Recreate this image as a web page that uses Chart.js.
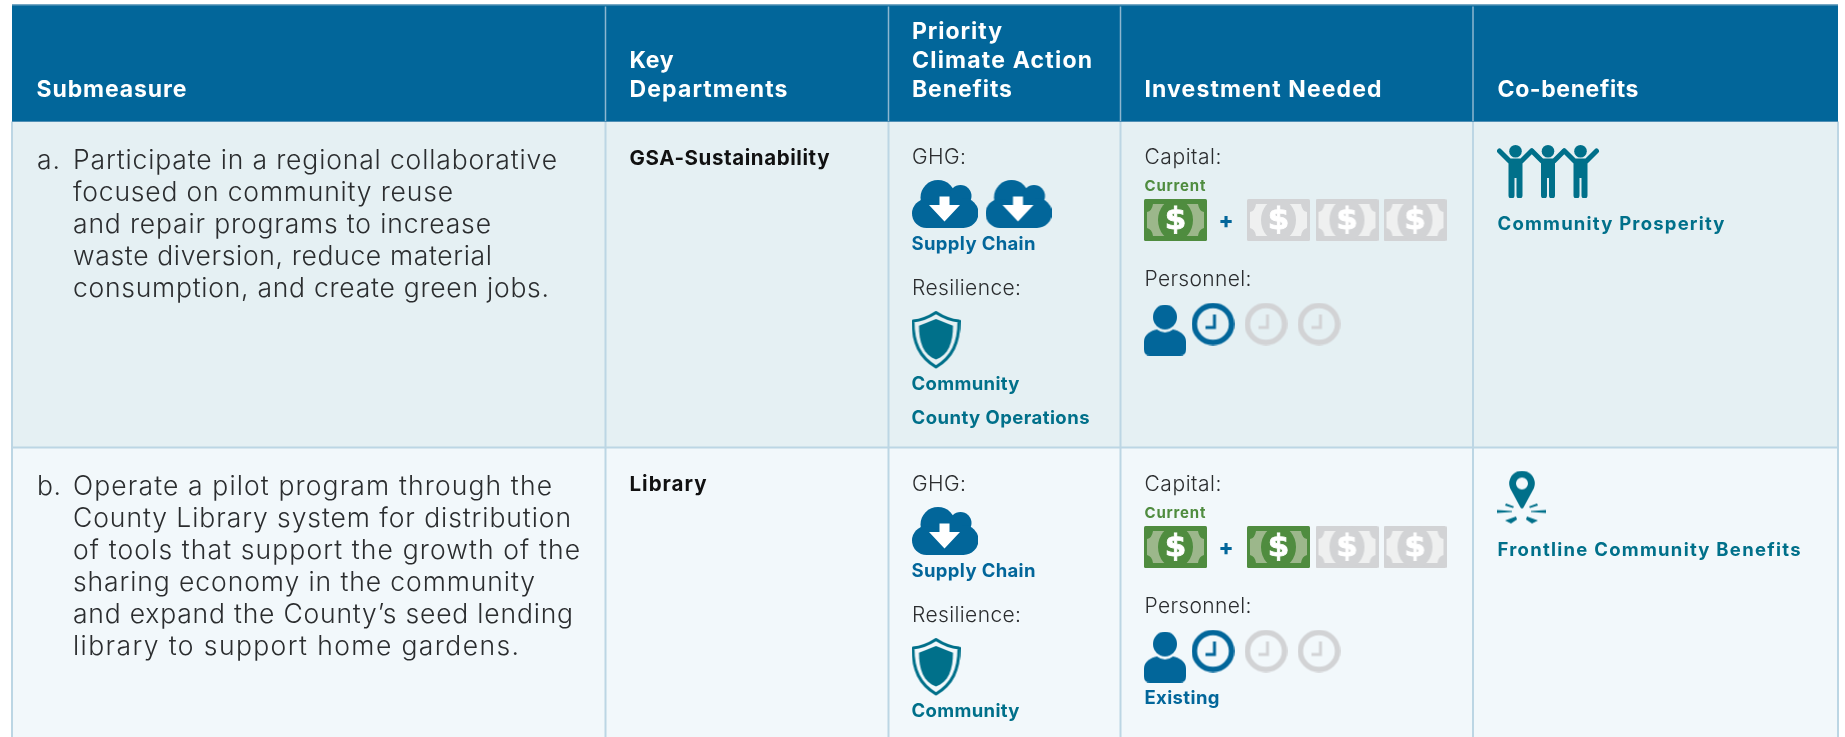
<!DOCTYPE html>
<html><head><meta charset="utf-8">
<style>html,body{margin:0;padding:0;background:#fff}canvas{display:block}</style>
<script src="https://cdn.jsdelivr.net/npm/chart.js@4"></script>
</head><body><canvas id="c" width="1845" height="737"></canvas>
<script>
// ---------- table content ----------
const columnHeaders = [['Submeasure'],['Key','Departments'],['Priority','Climate Action','Benefits'],['Investment Needed'],['Co-benefits']];
const rowMarkers = ['a.','b.'];
const submeasureA = ['Participate in a regional collaborative','focused on community reuse','and repair programs to increase','waste diversion, reduce material','consumption, and create green jobs.'];
const submeasureB = ['Operate a pilot program through the','County Library system for distribution','of tools that support the growth of the','sharing economy in the community','and expand the County\u2019s seed lending','library to support home gardens.'];
const departments = ['GSA-Sustainability','Library'];
const ghgLevel = [2,1];
const ghgLabels = ['Supply Chain','Supply Chain'];
const resilienceLevel = [1,1];
const resilienceLabels = [['Community','County Operations'],['Community']];
const capitalCurrent = [1,1];
const capitalAdded = [0,1];
const capitalSlots = 3;
const personnelLevel = [1,1];
const personnelSlots = 3;
const personnelNotes = ['','Existing'];
const coBenefits = ['Community Prosperity','Frontline Community Benefits'];
const coBenefitIcons = ['people','pin'];

// ---------- layout & style ----------
const BLUE='#02669a',TEAL='#00708a',GREEN='#4f8c3f',GRAY='#d2d3d5',INK='#2b2d2f';
const colEdges=[12,605.5,888.5,1120.5,1473,1838];
const rowEdges=[4.5,121.5,447.5,737];
const rowBg=['#e5f0f3','#f2f8fb'];
const rowShift=[0,327];
const W=1845,H=737;
const LIGHT='300 26.5px Inter';
const targetW={'Submeasure':150,'Key':44,'Departments':158,'Priority':90,'Climate Action':180,'Benefits':100,'Investment Needed':237,'Co-benefits':141,
'Participate in a regional collaborative':484,'focused on community reuse':380,'and repair programs to increase':418,'waste diversion, reduce material':419,'consumption, and create green jobs.':476,
'Operate a pilot program through the':479,'County Library system for distribution':498,'of tools that support the growth of the':507,'sharing economy in the community':462,'and expand the County\u2019s seed lending':500,'library to support home gardens.':446,
'GSA-Sustainability':200,'Library':77,'GHG:':54,'Resilience:':109,'Capital:':77,'Personnel:':107,'Current':61,'Supply Chain':124,'Community':108,'County Operations':178,'Existing':75,'Community Prosperity':227,'Frontline Community Benefits':303,'a.':23,'b.':24};

function mk(w,h,f){const c=document.createElement('canvas');c.width=w;c.height=h;const g=c.getContext('2d');f(g,w,h);return c;}
function cloud(g){
  g.fillStyle=BLUE;
  const blob=(x,y,r)=>{g.beginPath();g.arc(x,y,r,0,7);g.fill();};
  blob(26,17.5,17.5);blob(48.5,16,11);blob(14.5,33.5,14.5);blob(51.5,33,15);
  g.fillRect(14,24,38,24);g.fillRect(30,14,20,16);
  g.fillStyle='#fff';g.beginPath();
  g.moveTo(27.5,16.5);g.lineTo(37.5,16.5);g.lineTo(37.5,25);g.lineTo(48,25);g.lineTo(32.5,41.5);g.lineTo(17,25);g.lineTo(27.5,25);g.closePath();g.fill();
}
function shield(g){
  g.strokeStyle=TEAL;g.fillStyle=TEAL;g.lineJoin='round';
  const p=(m)=>{g.beginPath();
    g.moveTo(24.5,1.5+m*1.1);g.quadraticCurveTo(13,9+m*.6,1.5+m,10+m*.8);
    g.bezierCurveTo(1.5+m,32,8+m*.7,46-m*.3,24.5,56-m*1.25);
    g.bezierCurveTo(41-m*.7,46-m*.3,47.5-m,32,47.5-m,10+m*.8);
    g.quadraticCurveTo(36,9+m*.6,24.5,1.5+m*1.1);g.closePath();};
  g.lineWidth=3;p(0);g.stroke();p(6);g.fill();
}
function bill(bg,light,oval){return g=>{
  g.fillStyle=bg;g.beginPath();g.roundRect(0,0,63,42,1.5);g.fill();
  g.fillStyle=light;g.beginPath();
  g.moveTo(9,5);g.lineTo(54,5);g.quadraticCurveTo(55,12,60,13);g.lineTo(60,29);g.quadraticCurveTo(55,30,54,37);g.lineTo(9,37);g.quadraticCurveTo(8,30,3,29);g.lineTo(3,13);g.quadraticCurveTo(8,12,9,5);g.closePath();g.fill();
  g.fillStyle=oval;g.beginPath();g.ellipse(31.5,21,17.5,21,0,0,7);g.fill();
  g.fillStyle='#fff';g.strokeStyle='#fff';g.lineWidth=.8;g.font='700 31px "DejaVu Sans"';g.textAlign='center';g.textBaseline='middle';g.fillText('$',31.5,22);g.strokeText('$',31.5,22);
};}
function person(g){
  g.fillStyle=BLUE;g.beginPath();g.ellipse(21,12.5,12,12.5,0,0,7);g.fill();
  g.beginPath();g.moveTo(0,45);g.lineTo(0,37);g.bezierCurveTo(0,30,7,26,13,25);g.quadraticCurveTo(21,31,29,25);g.bezierCurveTo(35,26,42,30,42,37);g.lineTo(42,45);g.quadraticCurveTo(42,51,36,51);g.lineTo(6,51);g.quadraticCurveTo(0,51,0,45);g.closePath();g.fill();
}
function clock(col){return g=>{
  g.strokeStyle=col;g.lineWidth=5.5;g.beginPath();g.arc(21.5,21.5,18.6,0,7);g.stroke();
  g.lineWidth=3;g.beginPath();g.moveTo(23,12);g.lineTo(23,25);g.lineTo(14,25);g.stroke();
};}
function people(g){
  g.fillStyle=TEAL;g.strokeStyle=TEAL;g.lineCap='round';g.lineJoin='round';
  [18.5,51,83.5].forEach(cx=>{
    g.beginPath();g.arc(cx,6.3,6.3,0,7);g.fill();
    g.lineWidth=5;g.beginPath();g.moveTo(cx-16,6);g.lineTo(cx-6,16);g.lineTo(cx+6,16);g.lineTo(cx+16,6);g.stroke();
    g.beginPath();g.moveTo(cx-7,15);g.lineTo(cx+7,15);g.lineTo(cx+7,51);g.arc(cx+4,50.5,3,0,Math.PI);g.lineTo(cx+1,33);g.lineTo(cx-1,33);g.lineTo(cx-1,50.5);g.arc(cx-4,50.5,3,0,Math.PI);g.closePath();g.fill();
  });
}
function pin(g){
  g.fillStyle=TEAL;g.beginPath();
  g.arc(25,13,12.8,Math.PI*0.88,Math.PI*2.12);g.lineTo(26.5,37);g.quadraticCurveTo(25,39,23.5,37);g.closePath();
  g.moveTo(31,13);g.arc(25,13,6,0,Math.PI*2,true);g.fill('evenodd');
  const tri=(a)=>{g.beginPath();g.moveTo(a[0],a[1]);for(let i=2;i<a.length;i+=2)g.lineTo(a[i],a[i+1]);g.closePath();g.fill();};
  tri([0,39.5,15,40.5,15,41.5,0,42.5]);tri([49,39.5,34,40.5,34,41.5,49,42.5]);
  tri([9,33,17,36,16,37.5,8,35]);tri([40,33,32,36,33,37.5,41,35]);
  tri([8,50,19,46,20,49,14,53]);tri([41,50,30,46,29,49,35,53]);
}
const icons={
  cloud:mk(66,48,cloud),shield:mk(49,58,shield),
  billOn:mk(63,42,bill(GREEN,'#9cb78b',GREEN)),billOff:mk(63,42,bill(GRAY,'#eff0f0',GRAY)),
  person:mk(42,51,person),clockOn:mk(43,43,clock(BLUE)),clockOff:mk(43,43,clock(GRAY)),
  people:mk(103,53,people),pin:mk(50,54,pin)
};
// slot positions per column (icon centres)
const GHG_X=945,GHG_STEP=73.5,GHG_Y=204;
const SHIELD_X=936,SHIELD_Y=340;
const BILL_X=[1175.5,1278.5,1347,1415],BILL_Y=220;
const PERSON_X=1165,PERSON_Y=330;
const CLOCK_X=[1213,1266,1319],CLOCK_Y=324;
const CO_X=[1548.5,1522],CO_Y=[171.5,171.5];

const pts={cloud:[],shield:[],billOn:[],billOff:[],person:[],clockOn:[],clockOff:[],people:[],pin:[]};
rowMarkers.forEach((_,r)=>{
  const s=rowShift[r];
  for(let i=0;i<ghgLevel[r];i++)pts.cloud.push({x:GHG_X+i*GHG_STEP,y:GHG_Y+s});
  for(let i=0;i<resilienceLevel[r];i++)pts.shield.push({x:SHIELD_X,y:SHIELD_Y+s});
  for(let i=0;i<capitalCurrent[r];i++)pts.billOn.push({x:BILL_X[0],y:BILL_Y+s});
  for(let i=0;i<capitalSlots;i++)pts[i<capitalAdded[r]?'billOn':'billOff'].push({x:BILL_X[i+1],y:BILL_Y+s});
  pts.person.push({x:PERSON_X,y:PERSON_Y+s});
  for(let i=0;i<personnelSlots;i++)pts[i<personnelLevel[r]?'clockOn':'clockOff'].push({x:CLOCK_X[i],y:CLOCK_Y+s});
  pts[coBenefitIcons[r]].push({x:CO_X[r],y:CO_Y[r]+(r?326:0)});
});

const tablePlugin={id:'table',
  beforeDatasetsDraw(ch){
    const {ctx}=ch,X=v=>ch.scales.x.getPixelForValue(v),Y=v=>ch.scales.y.getPixelForValue(v);
    ctx.save();
    ctx.fillStyle=BLUE;ctx.fillRect(X(colEdges[0]),Y(rowEdges[0]),X(colEdges[5])-X(colEdges[0]),Y(rowEdges[1])-Y(rowEdges[0]));
    ctx.fillStyle='#6f9fbe';ctx.fillRect(X(colEdges[0]),Y(rowEdges[0]),X(colEdges[5])-X(colEdges[0]),1);
    rowBg.forEach((c,i)=>{ctx.fillStyle=c;ctx.fillRect(X(colEdges[0]),Y(rowEdges[i+1]),X(colEdges[5])-X(colEdges[0]),Y(rowEdges[i+2])-Y(rowEdges[i+1]));});
    ctx.fillStyle='#bcd6e4';
    colEdges.forEach(e=>ctx.fillRect(X(e)-1,Y(rowEdges[1]),2,Y(rowEdges[3])-Y(rowEdges[1])));
    ctx.fillRect(X(colEdges[0]),Y(rowEdges[2])-1,X(colEdges[5])-X(colEdges[0]),2);
    ctx.fillStyle='#8db6d0';
    colEdges.slice(1,5).forEach(e=>ctx.fillRect(X(e)-.75,Y(rowEdges[0]+2),1.5,Y(rowEdges[1])-Y(rowEdges[0]+2)));
    ctx.fillStyle='#4f8fb5';ctx.fillRect(X(colEdges[0]),Y(rowEdges[1])-.5,X(colEdges[5])-X(colEdges[0]),1);
    // text
    const T=(s,x,y,font,col)=>{ctx.font=font;ctx.fillStyle=col;ctx.letterSpacing='0px';ctx.textAlign='left';ctx.textBaseline='alphabetic';
      const m=ctx.measureText(s).width,t=targetW[s];
      if(t&&s.length>1)ctx.letterSpacing=((t-m)/(s.length-1)).toFixed(3)+'px';
      ctx.fillText(s,X(x),Y(y));ctx.letterSpacing='0px';};
    const HF='700 23px Inter';
    const hx=[36.5,629.5,912,1144.5,1497.5];
    columnHeaders.forEach((ls,c)=>ls.forEach((l,i)=>T(l,hx[c],97-(ls.length-1-i)*29,HF,'#fff')));
    const body=[submeasureA,submeasureB],by=[168.5,495],lh=[32,32];
    const NOTE='700 18.5px Inter',SUB='300 21px Inter';
    rowMarkers.forEach((m,r)=>{
      const s=rowShift[r];
      T(m,37,by[r],LIGHT,INK);
      body[r].forEach((l,i)=>T(l,73,by[r]+i*lh[r],LIGHT,INK));
      T(departments[r],629.5,r?491:165,'700 20.5px Inter','#111');
      T('GHG:',912,163.5+s,SUB,INK);
      T(ghgLabels[r],911.5,250+s,NOTE,BLUE);
      T('Resilience:',912,295+s,SUB,INK);
      resilienceLabels[r].forEach((l,i)=>T(l,911.5,390+s+i*34,NOTE,TEAL));
      T('Capital:',1144.5,164+s,SUB,INK);
      T('Current',1144.5,191+s,'700 15px Inter',GREEN);
      T('+',1218.5,228+s,'800 22px Inter',BLUE);
      T('Personnel:',1144.5,285.5+s,SUB,INK);
      if(personnelNotes[r])T(personnelNotes[r],1144.5,377+s,NOTE,BLUE);
      T(coBenefits[r],1497.5,r?555.5:230,NOTE,TEAL);
    });
    ctx.restore();
  }
};

new Chart(document.getElementById('c'),{
  type:'scatter',
  data:{datasets:Object.keys(pts).map(k=>({label:k,data:pts[k],pointStyle:icons[k],showLine:false,clip:false}))},
  options:{responsive:false,animation:false,events:[],layout:{padding:0,autoPadding:false},
    plugins:{legend:{display:false},tooltip:{enabled:false},title:{display:false}},
    scales:{x:{type:'linear',min:0,max:W,display:false},y:{type:'linear',min:0,max:H,reverse:true,display:false}}},
  plugins:[tablePlugin]
});
</script></body></html>
